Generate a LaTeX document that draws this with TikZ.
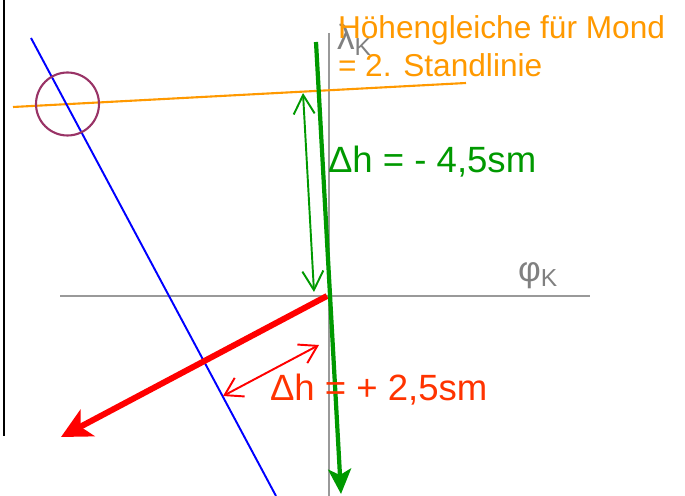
\documentclass[tikz,border=0pt]{standalone}
\usepackage{fontspec}
\setmainfont{Liberation Sans}
\usepackage{xcolor}
\definecolor{moonorange}{HTML}{FF9900}
\definecolor{sungreen}{HTML}{009900}
\definecolor{starred}{HTML}{FF0000}
\definecolor{labelred}{HTML}{FF3300}
\definecolor{lopblue}{HTML}{0000FF}
\definecolor{fixpurple}{HTML}{993366}
\definecolor{axisgray}{HTML}{999999}
\definecolor{labelgray}{HTML}{808080}
\usetikzlibrary{arrows.meta,positioning,calc}
\tikzset{
    axis/.style={draw=axisgray, line width=0.7pt},
    standline/.style={draw=moonorange, line width=1.2pt},
    lopline/.style={draw=lopblue, line width=1.1pt},
    azimuth/.style={draw=sungreen, line width=2.4pt, -{Stealth[length=0.5cm, width=0.46cm, inset=0.12cm]}},
    offset_green/.style={draw=sungreen, line width=1.1pt, {Straight Barb[length=0.38cm, width=0.42cm]}-{Straight Barb[length=0.38cm, width=0.42cm]}},
    offset_red/.style={draw=starred, line width=1.1pt, {Straight Barb[length=0.34cm, width=0.42cm]}-{Straight Barb[length=0.34cm, width=0.42cm]}},
    intercept/.style={draw=starred, line width=3.4pt, -{Stealth[length=0.6cm, width=0.6cm, inset=0.16cm]}}
}

\begin{document}
\begin{tikzpicture}[
    x=0.02cm, y=-0.02cm,
    every node/.style={inner sep=0pt, outer sep=0pt},
    big_label/.style={font=\fontsize{18}{21.5}\selectfont, align=left},
    delta_label/.style={font=\fontsize{20.8}{24}\selectfont},
    axis_label/.style={font=\fontsize{20}{24}\selectfont, text=labelgray},
    fix_circle/.style={circle, draw=fixpurple, line width=1.2pt, minimum size=1.26cm}
]
  \useasboundingbox (0,0) rectangle (685,496);

  % Frame edge and the two axes
  \coordinate (frame_top) at (4,0);
  \coordinate (frame_bot) at (4,436);
  \coordinate (lat_w) at (60,296);
  \coordinate (lat_e) at (590,296);
  \coordinate (lon_n) at (329,33);
  \coordinate (lon_s) at (329,496);
  \draw[line width=1.3pt] (frame_top) -- (frame_bot);
  \draw[axis] (lat_w) -- (lat_e);
  \draw[axis] (lon_n) -- (lon_s);
  \node[axis_label, anchor=base west] (lambda_k) at (337,50) {λ\textsubscript{K}};
  \node[axis_label, anchor=base west] (phi_k) at (518,281) {φ\textsubscript{K}};

  % Lines of position
  \coordinate (moon_w) at (13,107);
  \coordinate (moon_e) at (466,83);
  \coordinate (blue_n) at (31,38);
  \coordinate (blue_s) at (276,496);
  \draw[standline] (moon_w) -- (moon_e);
  \draw[lopline] (blue_n) -- (blue_s);
  \node[fix_circle] (fix) at (67.5,104) {};

  % Azimuth and intercept arrows
  \coordinate (azi_n) at (316,42);
  \coordinate (azi_s) at (341,494);
  \coordinate (red_start) at (327,296);
  \coordinate (red_tip) at (61,437);
  \draw[intercept] (red_start) -- (red_tip);
  \draw[azimuth] (azi_n) -- (azi_s);

  % Height differences
  \coordinate (dh_green_n) at (303,93);
  \coordinate (dh_green_s) at (314,292);
  \coordinate (dh_red_w) at (223,396);
  \coordinate (dh_red_e) at (319,345);
  \draw[offset_green] (dh_green_n) -- (dh_green_s);
  \draw[offset_red] (dh_red_w) -- (dh_red_e);

  % Texts
  \node[big_label, text=moonorange, anchor=north west] (moon_text) at (338,16) {Höhengleiche für Mond\\= 2. Standlinie};
  \node[delta_label, text=sungreen, anchor=base west] (dh_green_text) at (328,173) {Δh = - 4,5sm};
  \node[delta_label, text=labelred, anchor=base west] (dh_red_text) at (270,400) {Δh = + 2,5sm};

\end{tikzpicture}
\end{document}
